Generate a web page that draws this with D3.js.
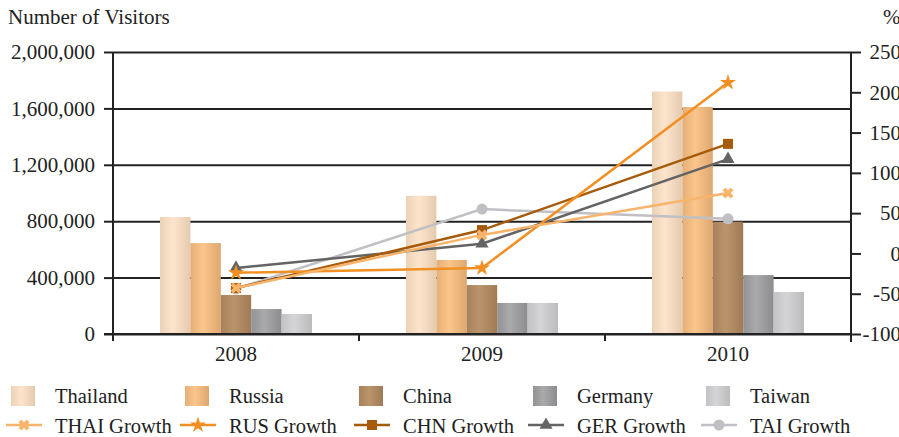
<!DOCTYPE html>
<html>
<head>
<meta charset="utf-8">
<script src="https://cdn.jsdelivr.net/npm/d3@7/dist/d3.min.js"></script>
<style>
  html, body { margin: 0; padding: 0; background: #fff; overflow: hidden; }
  svg { display: block; }
  svg text { font-family: "Liberation Serif", "Times New Roman", Times, Tinos, "Noto Serif", "DejaVu Serif", FreeSerif, serif !important; fill: #222; }
</style>
</head>
<body>
<svg id="chart" width="899" height="437"></svg>
<script>
// ---- data ----
const years = ["2008", "2009", "2010"];
const barSeries = ["Thailand", "Russia", "China", "Germany", "Taiwan"];
const thailand = [830000, 980000, 1720000];
const russia   = [645000, 525000, 1610000];
const china    = [277000, 347000, 796000];
const germany  = [177000, 220000, 418000];
const taiwan   = [142000, 220000, 298000];

const lineSeries = ["THAI Growth", "RUS Growth", "CHN Growth", "GER Growth", "TAI Growth"];
const thaiGrowth = [-43, 23, 75];
const rusGrowth  = [-24, -18, 212];
const chnGrowth  = [-43, 29, 136];
const gerGrowth  = [-18, 12, 117];
const taiGrowth  = [-44, 55, 43];

const leftTicks  = [0, 400000, 800000, 1200000, 1600000, 2000000];
const rightTicks = [-100, -50, 0, 50, 100, 150, 200, 250];

// ---- styles ----
const barValues = [thailand, russia, china, germany, taiwan];
const barGrad = [
  ["#ead2b6", "#fde4cd", "#e4cbae"],
  ["#e5ae78", "#fac68b", "#dea670"],
  ["#a6815a", "#b9946c", "#9f7a54"],
  ["#929294", "#aaaaac", "#8c8c8e"],
  ["#c2c2c4", "#d5d5d7", "#bbbbbd"]
];
const lineValues = [thaiGrowth, rusGrowth, chnGrowth, gerGrowth, taiGrowth];
const lineColors = ["#f9b46b", "#f28f22", "#a65b0a", "#646464", "#c0c0c4"];
const lineSymbols = [
  {type: d3.symbolCross, size: 75, rot: 45},
  {type: d3.symbolStar, size: 80, rot: 0},
  {type: d3.symbolSquare, size: 100, rot: 0},
  {type: d3.symbolTriangle, size: 75, rot: 0},
  {type: d3.symbolCircle, size: 95, rot: 0}
];

const FS = 21, LFS = 20.5;
const svg = d3.select("#chart");
const L = 113, R = 851, T = 52, B = 334;

const x0 = d3.scaleBand().domain(years).range([L, R]).padding(0);
const bw = x0.bandwidth();
const x1 = d3.scaleBand().domain(barSeries).range([bw / 2 - 76, bw / 2 + 76]).padding(0);
const yL = d3.scaleLinear().domain([0, 2000000]).range([B, T]);
const yR = d3.scaleLinear().domain([-100, 250]).range([B, T]);

// gradients
const defs = svg.append("defs");
barGrad.forEach((g, i) => {
  const lg = defs.append("linearGradient").attr("id", "g" + i)
    .attr("x1", "0%").attr("x2", "100%").attr("y1", "0%").attr("y2", "0%");
  lg.append("stop").attr("offset", "0%").attr("stop-color", g[0]);
  lg.append("stop").attr("offset", "42%").attr("stop-color", g[1]);
  lg.append("stop").attr("offset", "100%").attr("stop-color", g[2]);
});

// gridlines
svg.append("g").attr("transform", `translate(${L},0)`)
  .call(d3.axisLeft(yL).tickValues(leftTicks).tickSize(-(R - L)).tickFormat(""))
  .call(g => g.select(".domain").remove())
  .call(g => g.selectAll("line").attr("stroke", "#222").attr("stroke-width", 2));

// bars
barSeries.forEach((s, si) => {
  svg.append("g").selectAll("rect").data(years).join("rect")
    .attr("x", d => x0(d) + x1(s))
    .attr("width", x1.bandwidth())
    .attr("y", (d, i) => yL(barValues[si][i]))
    .attr("height", (d, i) => B - yL(barValues[si][i]))
    .attr("fill", `url(#g${si})`);
});

// left axis
svg.append("g").attr("transform", `translate(${L},0)`)
  .call(d3.axisLeft(yL).tickValues(leftTicks).tickSize(9).tickPadding(9).tickFormat(d3.format(",")))
  .call(g => g.attr("font-family", null).attr("font-size", FS))
  .call(g => g.select(".domain").attr("d", `M0,${T}V${B + 7}`).attr("stroke", "#222").attr("stroke-width", 2))
  .call(g => g.selectAll(".tick line").attr("stroke", "#222").attr("stroke-width", 2));

// right axis
svg.append("g").attr("transform", `translate(${R},0)`)
  .call(d3.axisRight(yR).tickValues(rightTicks).tickSize(10).tickFormat(d => d))
  .call(g => g.attr("font-family", null).attr("font-size", FS))
  .call(g => g.select(".domain").attr("d", `M0,${T}V${B + 8}`).attr("stroke", "#222").attr("stroke-width", 2))
  .call(g => g.selectAll(".tick line").attr("stroke", "#222").attr("stroke-width", 2))
  .call(g => g.selectAll("text").attr("text-anchor", "end").attr("x", 50));

// bottom axis
svg.append("g").attr("transform", `translate(0,${B})`)
  .call(d3.axisBottom(x0).tickSize(0).tickPadding(12))
  .call(g => g.attr("font-family", null).attr("font-size", FS))
  .call(g => g.select(".domain").attr("d", `M${L - 9},0H${R}`).attr("stroke", "#222").attr("stroke-width", 2));
svg.append("g").selectAll("line").data(years.slice(1).concat(["__end"])).join("line")
  .attr("x1", d => d === "__end" ? R : x0(d)).attr("x2", d => d === "__end" ? R : x0(d))
  .attr("y1", B).attr("y2", B + 7).attr("stroke", "#222").attr("stroke-width", 2);

// axis titles
svg.append("text").attr("x", 8).attr("y", 24).attr("font-size", FS).text("Number of Visitors");
svg.append("text").attr("x", 883).attr("y", 24).attr("font-size", FS).text("%");

// lines (drawn in reverse so THAI is on top)
const cx = d => x0(d) + bw / 2;
for (let si = lineSeries.length - 1; si >= 0; si--) {
  const vals = lineValues[si];
  const line = d3.line().x((d, i) => cx(years[i])).y(d => yR(d));
  svg.append("path").datum(vals).attr("d", line)
    .attr("fill", "none").attr("stroke", lineColors[si]).attr("stroke-width", 2.5);
  const sym = lineSymbols[si];
  svg.append("g").selectAll("path").data(vals).join("path")
    .attr("d", d3.symbol().type(sym.type).size(sym.size))
    .attr("transform", (d, i) => `translate(${cx(years[i])},${yR(d)}) rotate(${sym.rot})`)
    .attr("fill", lineColors[si]);
}

// legend
const legX = [11, 185, 359, 533, 706];
barSeries.forEach((s, i) => {
  svg.append("rect").attr("x", legX[i]).attr("y", 386).attr("width", 24).attr("height", 20)
    .attr("fill", `url(#g${i})`);
  svg.append("text").attr("x", legX[i] + 44).attr("y", 403).attr("font-size", LFS).text(s);
});
lineSeries.forEach((s, i) => {
  const lx = legX[i] - 5;
  svg.append("line").attr("x1", lx).attr("x2", lx + 36).attr("y1", 425).attr("y2", 425)
    .attr("stroke", lineColors[i]).attr("stroke-width", 2.5);
  const sym = lineSymbols[i];
  svg.append("path").attr("d", d3.symbol().type(sym.type).size(sym.size)())
    .attr("transform", `translate(${lx + 18},425) rotate(${sym.rot})`)
    .attr("fill", lineColors[i]);
  svg.append("text").attr("x", legX[i] + 44).attr("y", 433).attr("font-size", LFS).text(s);
});
</script>
</body>
</html>
